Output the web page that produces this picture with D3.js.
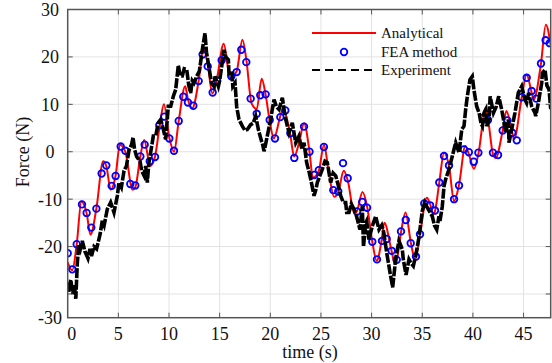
<!DOCTYPE html>
<html>
<head>
<meta charset="utf-8">
<script src="https://cdn.jsdelivr.net/npm/d3@7"></script>
<style>
  body { margin: 0; background: #fff; }
  svg { display: block; font-family: "Liberation Serif", "Times New Roman", serif; }
</style>
</head>
<body>
<div id="chart"></div>
<script>
// values (time in s, force in N)
const anaTime = [0, 0.45, 0.89, 1.35, 1.87, 2.25, 2.83, 3.5, 3.81, 4.25, 4.73, 5.15, 5.69, 6.4, 6.67, 7.17, 7.55, 8.15, 8.62, 9.05,
  9.5, 10.03, 10.5, 10.96, 11.6, 11.87, 12.3, 12.93, 13.4, 13.82, 14.28, 14.74, 15.4, 16.05, 16.68, 17.25, 17.63, 18.15, 18.66, 19.15,
  19.54, 19.94, 20.35, 20.99, 21.25, 21.98, 22.35, 22.85, 23.33, 23.87, 24.2, 24.79, 25.3, 25.75, 26.3, 26.71, 27.25, 27.64, 28.3, 28.56,
  29.1, 29.55, 30.07, 30.5, 31.0, 31.25, 31.98, 32.3, 32.48, 32.9, 33.35, 33.86, 34.3, 34.78, 35.45, 35.77, 36.1, 36.26, 36.68, 37.15,
  37.64, 38.14, 38.63, 39.25, 39.6, 40.1, 40.54, 41.27, 41.49, 41.98, 42.25, 42.94, 43.3, 43.89, 44.06, 44.82, 45.3, 45.8, 46.0, 46.72,
  47.2, 47.68];
const anaForce = [-23.3, -25, -19.5, -10.5, -13, -17.5, -12, -2, -3, -8, -5, 1.5, 0, -8, -7.5, -1, 2.5, -3, -1, 5,
  10, 3, 0, 6.5, 13.8, 11, 9.2, 15, 21.9, 18.5, 12.3, 15.5, 22.8, 15.5, 17, 23.6, 19.5, 10.2, 9, 15.4,
  12, 6.5, 2.8, 7.5, 9, 3.5, -1, 2, 6, 0, -5.5, -4, 1.5, -4, -9.5, -8.5, -4, -6, -13, -12.5,
  -8.5, -11.5, -19, -23, -18.5, -15, -21, -23.7, -23, -17, -12.8, -19, -22.7, -17.4, -9.7, -11, -13.2, -12.5, -6.5, -0.2,
  -3, -10.4, -7, 1.2, -0.5, -3.6, -0.5, 9.3, 7, -0.5, -1.3, 4.5, 8.6, 4, 2.6, 11.5, 16.3, 12.5, 11, 18.6,
  26.8, 22.5];

const feaTime = [0, 0.45, 0.89, 1.41, 1.87, 2.33, 2.83, 3.35, 3.81, 4.34, 4.73, 5.23, 5.69, 6.18, 6.67, 7.17, 7.6, 8.1, 8.62, 9.05,
  9.54, 10.03, 10.49, 10.96, 11.41, 11.87, 12.4, 12.93, 13.32, 13.82, 14.31, 14.74, 15.2, 16.15, 16.68, 17.14, 17.63, 18.06, 18.66, 19.01,
  19.54, 19.94, 20.46, 20.99, 21.48, 21.98, 22.37, 23.33, 23.87, 24.34, 24.79, 25.29, 26.22, 26.71, 27.18, 27.64, 28.56, 29.08, 29.55, 30.07,
  30.53, 31.03, 31.49, 31.98, 32.48, 32.9, 33.37, 33.86, 34.38, 34.78, 35.2, 35.77, 36.26, 36.68, 37.15, 37.64, 38.14, 38.63, 39.12, 39.6,
  40.08, 40.54, 41.0, 41.49, 41.98, 42.48, 42.94, 43.4, 43.89, 44.33, 44.82, 45.31, 45.8, 46.26, 46.72, 47.18, 47.58];
const feaForce = [-21.4, -24.8, -19.5, -11.1, -12.9, -16, -12, -4.6, -2.9, -7.2, -5.1, 1.1, 0.2, -6.8, -7.1, -1, 1.5, -2, -1.1, 5.6,
  7.4, 2.8, 0.2, 6.5, 11.6, 10.4, 9.7, 14.9, 20.5, 18, 12.5, 15, 19.3, 15.9, 16.8, 21.5, 18.9, 11.2, 8, 11.9,
  12.1, 6.7, 2.8, 7.3, 8.7, 3.9, -1.3, 5.3, 0, -4.9, -3.9, 1, -8.1, -8.4, -2.4, -5.6, -12.6, -10.6, -11.8, -19,
  -22.7, -18.8, -18.4, -20.9, -22.8, -16.8, -14.4, -19.3, -22.1, -17.4, -10.9, -11.3, -12.4, -6.5, -0.9, -2.9, -10, -7.1, 0.5, -0.1,
  -2.1, -0.2, 7.2, 6.7, -0.2, -0.7, 4.5, 6.6, 4, 2.4, 11.5, 15.6, 12.8, 11.2, 18.6, 23.5, 22.9];

const expTime = [0, 0.1, 0.3, 0.5, 0.65, 0.8, 0.95, 1.1, 1.25, 1.44, 1.7, 2.0, 2.2, 2.35, 2.6, 2.85, 3.2, 3.42, 3.6, 3.91,
  4.24, 4.45, 4.57, 4.9, 5.06, 5.3, 5.56, 5.8, 6.05, 6.3, 6.45, 6.6, 6.8, 7.14, 7.3, 7.53, 7.7, 7.86, 8.0, 8.2,
  8.45, 8.69, 8.94, 9.18, 9.44, 9.67, 9.93, 10.17, 10.43, 10.66, 10.92, 11.1, 11.31, 11.5, 11.75, 11.95, 12.14, 12.3, 12.47, 12.73,
  13.0, 13.29, 13.55, 13.7, 13.95, 14.2, 14.44, 14.54, 14.87, 15.0, 15.2, 15.43, 15.6, 15.86, 15.92, 16.19, 16.3, 16.52, 16.68, 16.91,
  17.24, 17.5, 17.73, 18.06, 18.3, 18.56, 18.82, 19.1, 19.25, 19.38, 19.5, 19.7, 20.04, 20.2, 20.37, 20.6, 20.86, 21.19, 21.35, 21.52,
  21.85, 22.17, 22.51, 22.83, 23.0, 23.16, 23.33, 23.59, 23.8, 23.99, 24.32, 24.5, 24.64, 25.13, 25.4, 25.63, 25.96, 26.2, 26.46, 26.7,
  26.95, 27.2, 27.44, 27.54, 27.77, 28.0, 28.26, 28.5, 28.85, 29.08, 29.2, 29.42, 29.51, 29.74, 30.07, 30.4, 30.73, 31.0, 31.2, 31.49,
  31.82, 32.08, 32.38, 32.7, 33.03, 33.13, 33.4, 33.69, 33.9, 34.12, 34.35, 34.68, 35.0, 35.24, 35.5, 35.77, 35.99, 36.2, 36.43, 36.65,
  36.75, 36.98, 37.15, 37.31, 37.64, 37.97, 38.3, 38.63, 38.9, 39.12, 39.29, 39.45, 39.71, 39.94, 40.1, 40.37, 40.61, 40.8, 40.94, 41.1,
  41.27, 41.36, 41.6, 41.7, 42.03, 42.3, 42.55, 42.84, 43.0, 43.24, 43.5, 43.56, 43.83, 44.15, 44.48, 44.82, 45.14, 45.3, 45.5, 45.8,
  46.13, 46.2, 46.46, 46.79, 46.86, 47.12, 47.3, 47.52, 47.68];
const expForce = [-27.5, -29.5, -27, -30, -28, -31, -23.4, -19.5, -20.5, -18.8, -21, -22.5, -20.5, -22, -20, -20.5, -17.4, -14.5, -15.5, -12.1,
  -10.7, -12, -12.8, -9.3, -6.5, -7.5, -4, -3, 0.3, 1.5, 3, 0.5, -1, -2, -4, -5, -3, -6.5, -2.5, 0,
  3.3, 3.3, 6.1, 6.8, 4.7, 2.6, 9.6, 9.6, 11.7, 13.1, 18.2, 16, 16, 17.5, 17.3, 14, 12.4, 15, 14.5, 15.9,
  17, 21.5, 25, 21, 17.7, 14.5, 13.8, 15.9, 13.8, 15, 18, 21.5, 20, 19.4, 16.6, 17, 13.8, 14.5, 9.5, 6.8,
  5.4, 4.5, 4.7, 5.7, 6, 7.5, 4.7, 2.5, 1.5, 0.1, 1.2, 3.3, 6.8, 9, 11, 9.5, 8.9, 11.4, 9, 6.8,
  4, 6.1, 1.9, 3.3, 1.5, 0.5, 1.9, -2.3, -4, -5.8, -9.3, -8, -6.5, -3.7, -2, -2.3, -6.5, -4.5, -5.1, -7,
  -9.3, -10.7, -10.7, -12.8, -12.8, -11, -12.1, -13.5, -16.4, -11.5, -20, -15, -14.6, -18.5, -15.7, -13.6, -16.4, -15.5, -17, -21.3,
  -25.5, -28.6, -22.5, -18.8, -20.6, -22.7, -26, -22.7, -23.5, -24.1, -22, -18, -12.5, -10.7, -11.8, -12.8, -13.6, -15.5, -16.4, -13.6,
  -14.6, -11.5, -7.2, -5.8, -3.7, -0.9, 1.9, -0.2, 4.7, 5.4, 9, 11.7, 15.2, 15.9, 13.1, 9.6, 8.2, 6, 5.4, 8.2,
  8.9, 5.4, 6.8, 11.7, 8.2, 9.5, 11.7, 8.9, 7, 4, 6.8, 1.9, 4.7, 8.2, 12.4, 13.8, 11, 10.3, 12.4, 9.6,
  8.2, 7.5, 10.3, 14.5, 16.6, 17.3, 14, 13.1, 9];

const xTicks = [0, 5, 10, 15, 20, 25, 30, 35, 40, 45];
const yGrid = [-30, -20, -10, 0, 10, 20];
// the bottom label of the picture reads "-30" although it sits at the -35 end of the axis
const yLabelPos = [30, 20, 10, 0, -10, -20, -35];
const yLabelText = ["30", "20", "10", "0", "-10", "-20", "-30"];
const seriesNames = ["Analytical", "FEA method", "Experiment"];

const W = 552, H = 363;
const margin = {top: 9.5, right: 1.3, bottom: 45.3, left: 67.7};
const width = W - margin.left - margin.right;
const height = H - margin.top - margin.bottom;

const svg = d3.select("#chart").append("svg")
  .attr("width", W)
  .attr("height", H);
const g = svg.append("g").attr("transform", `translate(${margin.left},${margin.top})`);

const x = d3.scaleLinear().domain([0, 47.68]).range([0, width]);
const y = d3.scaleLinear().domain([-35, 30]).range([height, 0]);

// grid
g.append("g").selectAll("line").data(xTicks.filter(d => d > 0)).enter().append("line")
  .attr("x1", d => x(d)).attr("x2", d => x(d))
  .attr("y1", 0).attr("y2", height)
  .attr("stroke", "#e2e2e2").attr("stroke-width", 1);
g.append("g").selectAll("line").data(yGrid).enter().append("line")
  .attr("x1", 0).attr("x2", width)
  .attr("y1", d => y(d)).attr("y2", d => y(d))
  .attr("stroke", "#e2e2e2").attr("stroke-width", 1);

// series
const anaData = anaTime.map((t, i) => [t, anaForce[i]]);
const feaData = feaTime.map((t, i) => [t, feaForce[i]]);
const expData = expTime.map((t, i) => [t, expForce[i]]);

const line = d3.line().x(d => x(d[0])).y(d => y(d[1]));
svg.append("defs").append("clipPath").attr("id", "clip")
  .append("rect").attr("width", width).attr("height", height);
const plotArea = g.append("g").attr("clip-path", "url(#clip)");

plotArea.append("path")
  .datum(anaData)
  .attr("fill", "none")
  .attr("stroke", "#ff0000")
  .attr("stroke-width", 2)
  .attr("stroke-linejoin", "round")
  .attr("d", line.curve(d3.curveMonotoneX));

plotArea.append("g").selectAll("circle").data(feaData).enter().append("circle")
  .attr("cx", d => x(d[0]))
  .attr("cy", d => y(d[1]))
  .attr("r", 3.3)
  .attr("fill", "none")
  .attr("stroke", "#0000ff")
  .attr("stroke-width", 1.8);

plotArea.append("path")
  .datum(expData)
  .attr("fill", "none")
  .attr("stroke", "#000")
  .attr("stroke-width", 3.6)
  .attr("stroke-dasharray", "10,1.5")
  .attr("d", d3.line().x(d => x(d[0])).y(d => y(d[1])));

// frame and inward ticks
g.append("rect")
  .attr("width", width).attr("height", height)
  .attr("fill", "none").attr("stroke", "#555").attr("stroke-width", 1.5);
const tickLen = 5;
const ticks = g.append("g").attr("stroke", "#555").attr("stroke-width", 1);
xTicks.filter(d => d > 0).forEach(d => {
  ticks.append("line").attr("x1", x(d)).attr("x2", x(d)).attr("y1", height).attr("y2", height - tickLen);
  ticks.append("line").attr("x1", x(d)).attr("x2", x(d)).attr("y1", 0).attr("y2", tickLen);
});
yGrid.forEach(d => {
  ticks.append("line").attr("x1", 0).attr("x2", tickLen).attr("y1", y(d)).attr("y2", y(d));
  ticks.append("line").attr("x1", width).attr("x2", width - tickLen).attr("y1", y(d)).attr("y2", y(d));
});

// tick labels
g.append("g").selectAll("text").data(xTicks).enter().append("text")
  .attr("x", d => x(d) + (d === 0 ? 4 : 0))
  .attr("y", height + 22)
  .attr("text-anchor", "middle")
  .attr("font-size", 18)
  .attr("fill", "#111")
  .text(d => d);
g.append("g").selectAll("text").data(yLabelPos).enter().append("text")
  .attr("x", 50 - margin.left)
  .attr("y", (d, i) => y(d) + 6.5)
  .attr("text-anchor", "middle")
  .attr("font-size", 18)
  .attr("fill", "#111")
  .text((d, i) => yLabelText[i]);

// axis titles
svg.append("text")
  .attr("x", 310).attr("y", 358)
  .attr("text-anchor", "middle")
  .attr("font-size", 18)
  .attr("fill", "#111")
  .text("time (s)");
svg.append("text")
  .attr("transform", "translate(29,152) rotate(-90)")
  .attr("text-anchor", "middle")
  .attr("font-size", 18)
  .attr("fill", "#111")
  .text("Force (N)");

// legend
const legend = svg.append("g");
legend.append("line").attr("x1", 312).attr("x2", 376).attr("y1", 33).attr("y2", 33)
  .attr("stroke", "#ff0000").attr("stroke-width", 2);
legend.append("circle").attr("cx", 344).attr("cy", 52).attr("r", 3.3)
  .attr("fill", "none").attr("stroke", "#0000ff").attr("stroke-width", 1.8);
legend.append("line").attr("x1", 312).attr("x2", 376).attr("y1", 70).attr("y2", 70)
  .attr("stroke", "#000").attr("stroke-width", 2).attr("stroke-dasharray", "8,5");
legend.selectAll("text").data(seriesNames).enter().append("text")
  .attr("x", 381)
  .attr("y", (d, i) => 38 + i * 18.5)
  .attr("font-size", 15)
  .attr("fill", "#111")
  .text(d => d);
</script>
</body>
</html>
